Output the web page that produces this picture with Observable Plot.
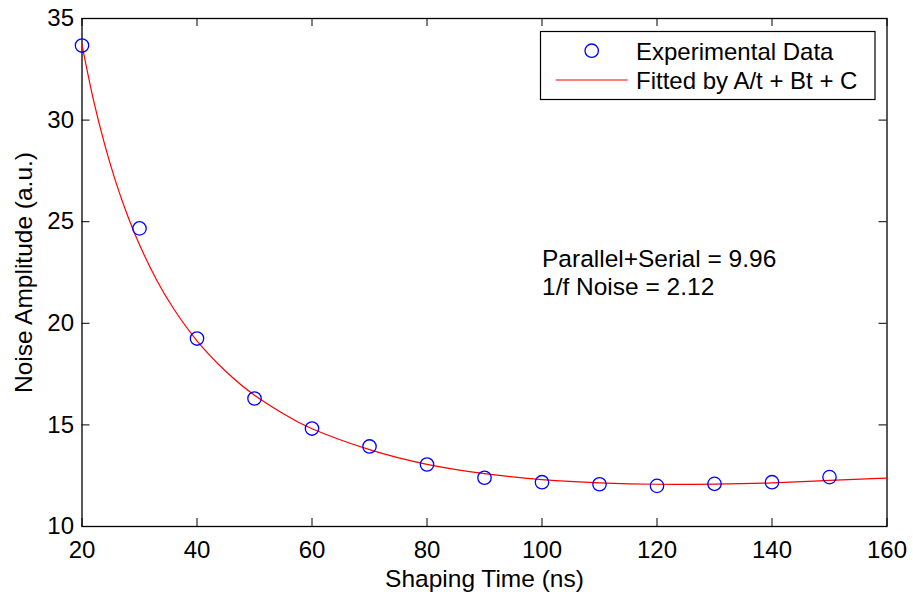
<!DOCTYPE html>
<html>
<head>
<meta charset="utf-8">
<script src="https://cdn.jsdelivr.net/npm/d3@7"></script>
<script src="https://cdn.jsdelivr.net/npm/@observablehq/plot@0.6"></script>
<style>
  html, body { margin: 0; padding: 0; background: #fff; }
  #chart svg { display: block; }
</style>
</head>
<body>
<div id="chart"></div>
<script>
// ---- Data ----
const shapingTime = [20, 30, 40, 50, 60, 70, 80, 90, 100, 110, 120, 130, 140, 150];
const noiseAmplitude = [33.67, 24.67, 19.25, 16.30, 14.82, 13.94, 13.05, 12.40, 12.18, 12.08, 12.00, 12.10, 12.18, 12.43];

const fitTime = [20, 22, 24, 26, 28, 30, 33, 36, 40, 45, 50, 55, 60, 70, 80, 90, 100, 110, 120, 130, 140, 150, 160];
const fitAmplitude = [33.70, 30.98, 28.74, 26.85, 25.24, 23.86, 22.12, 20.69, 19.14, 17.64, 16.46, 15.55, 14.81, 13.78, 13.06, 12.60, 12.31, 12.15, 12.08, 12.09, 12.15, 12.27, 12.38];

const xTicks = [20, 40, 60, 80, 100, 120, 140, 160];
const yTicks = [10, 15, 20, 25, 30, 35];

const seriesNames = ["Experimental Data", "Fitted by A/t + Bt + C"];
const annotationLines = ["Parallel+Serial = 9.96", "1/f Noise = 2.12"];
const xLabel = "Shaping Time (ns)";
const yLabel = "Noise Amplitude (a.u.)";

// ---- Tables for Plot ----
const measured = shapingTime.map((t, i) => ({t, v: noiseAmplitude[i]}));
const fitted = fitTime.map((t, i) => ({t, v: fitAmplitude[i]}));

const W = 913, H = 597;
const mL = 81.5, mR = 26.5, mT = 18, mB = 71;
const innerW = W - mL - mR, innerH = H - mT - mB;
const tickLen = 8;
const FONT = "'Liberation Sans', Arial, Helvetica, sans-serif";

const chart = Plot.plot({
  width: W,
  height: H,
  marginLeft: mL,
  marginRight: mR,
  marginTop: mT,
  marginBottom: mB,
  style: {fontFamily: FONT, fontSize: "24px", color: "black", background: "white", overflow: "visible"},
  x: {domain: [20, 160], ticks: xTicks},
  y: {domain: [10, 35], ticks: yTicks},
  marks: [
    // inward ticks on all four sides
    Plot.ruleX(xTicks, {x: d => d, insetTop: innerH - tickLen, stroke: "black", strokeWidth: 1}),
    Plot.ruleX(xTicks, {x: d => d, insetBottom: innerH - tickLen, stroke: "black", strokeWidth: 1}),
    Plot.ruleY(yTicks, {y: d => d, insetRight: innerW - tickLen, stroke: "black", strokeWidth: 1}),
    Plot.ruleY(yTicks, {y: d => d, insetLeft: innerW - tickLen, stroke: "black", strokeWidth: 1}),
    Plot.frame({stroke: "black", strokeWidth: 1.3}),
    Plot.axisX(xTicks, {anchor: "bottom", tickSize: 0, tickPadding: 14, label: null, fontSize: 24}),
    Plot.axisY(yTicks, {anchor: "left", tickSize: 0, tickPadding: 8, label: null, fontSize: 24}),
    Plot.line(fitted, {x: "t", y: "v", stroke: "#ff0000", strokeWidth: 1.2, curve: "natural"}),
    Plot.dot(measured, {x: "t", y: "v", r: 6.7, stroke: "#0000ff", strokeWidth: 1.3, fill: "none"}),
    Plot.text([annotationLines.join("\n")], {
      x: 100, y: 21.37, text: d => d, textAnchor: "start", lineAnchor: "bottom",
      lineHeight: 1.155, fontSize: 24.5, fill: "black"
    }),
    Plot.text([xLabel], {frameAnchor: "bottom", textAnchor: "middle", dy: 60, lineAnchor: "bottom", fontSize: 24.5, fill: "black"}),
    Plot.text([yLabel], {frameAnchor: "left", textAnchor: "middle", rotate: -90, dx: -50, lineAnchor: "bottom", fontSize: 24.5, fill: "black"})
  ]
});

// ---- Legend (drawn inside the axes, top-right) ----
const svg = d3.select(chart);
const lg = svg.append("g").attr("class", "legend")
  .attr("font-family", FONT).attr("font-size", 24).attr("text-anchor", "start");
lg.append("rect")
  .attr("x", 540.5).attr("y", 31.5).attr("width", 334.5).attr("height", 68)
  .attr("fill", "white").attr("stroke", "black").attr("stroke-width", 1.2);
lg.append("circle")
  .attr("cx", 591.7).attr("cy", 50.7).attr("r", 6.7)
  .attr("fill", "none").attr("stroke", "#0000ff").attr("stroke-width", 1.3);
lg.append("line")
  .attr("x1", 555.7).attr("x2", 627.7).attr("y1", 80).attr("y2", 80)
  .attr("stroke", "#ff0000").attr("stroke-width", 1.2);
lg.append("text").attr("x", 636).attr("y", 59.5).attr("fill", "black").attr("text-anchor", "start").text(seriesNames[0]);
lg.append("text").attr("x", 636).attr("y", 88.5).attr("fill", "black").attr("text-anchor", "start").text(seriesNames[1]);

document.getElementById("chart").appendChild(chart);
</script>
</body>
</html>
